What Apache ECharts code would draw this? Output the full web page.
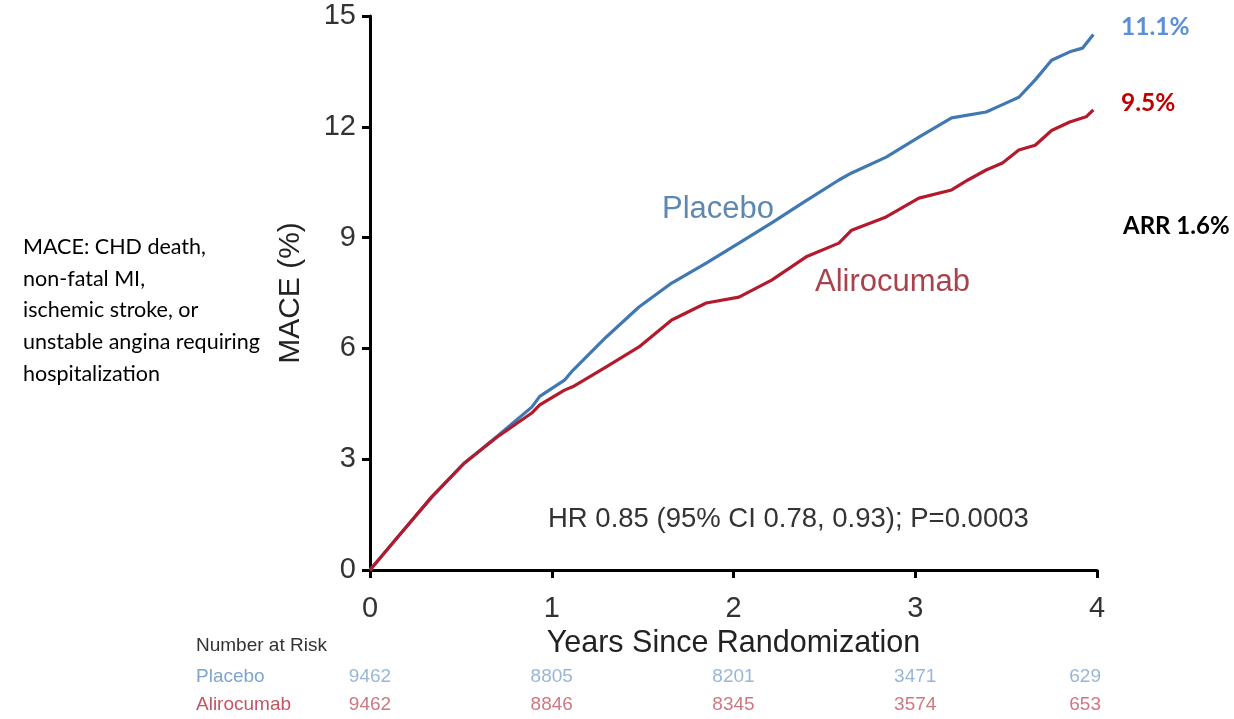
<!DOCTYPE html>
<html>
<head>
<meta charset="utf-8">
<script src="https://cdn.jsdelivr.net/npm/echarts@6/dist/echarts.min.js"></script>
<style>
  html, body { margin: 0; padding: 0; background: #fff; }
  #chart { width: 1234px; height: 719px; }
</style>
</head>
<body>
<div id="chart"></div>
<script>
// Cumulative MACE incidence (%) by years since randomization
const placeboYears = [0, 0.154, 0.34, 0.52, 0.70, 0.89, 0.934, 1.07, 1.115, 1.30, 1.48, 1.66, 1.85, 2.03, 2.21, 2.40, 2.58, 2.65, 2.84, 3.02, 3.20, 3.39, 3.48, 3.57, 3.66, 3.75, 3.85, 3.92, 3.98];
const placeboPct   = [0, 0.9, 1.98, 2.9, 3.62, 4.41, 4.7, 5.14, 5.4, 6.31, 7.12, 7.77, 8.31, 8.85, 9.4, 10.0, 10.56, 10.75, 11.18, 11.72, 12.24, 12.4, 12.6, 12.8, 13.27, 13.8, 14.03, 14.13, 14.5];

const alirocumabYears = [0, 0.154, 0.34, 0.52, 0.70, 0.89, 0.934, 1.07, 1.115, 1.30, 1.48, 1.66, 1.85, 2.03, 2.21, 2.40, 2.58, 2.65, 2.84, 3.02, 3.20, 3.29, 3.39, 3.48, 3.57, 3.66, 3.75, 3.85, 3.94, 3.98];
const alirocumabPct   = [0, 0.9, 1.98, 2.9, 3.6, 4.25, 4.47, 4.87, 4.96, 5.5, 6.04, 6.77, 7.23, 7.39, 7.85, 8.48, 8.85, 9.2, 9.56, 10.07, 10.29, 10.56, 10.83, 11.02, 11.37, 11.5, 11.9, 12.13, 12.27, 12.46];

// Number at risk table
const riskYears = [0, 1, 2, 3, 4];
const riskGroups = ['Placebo', 'Alirocumab'];
const riskPlacebo = [9462, 8805, 8201, 3471, 629];
const riskAlirocumab = [9462, 8846, 8345, 3574, 653];

const yTicks = [0, 3, 6, 9, 12, 15];

const BLUE = '#3f78b2';
const RED = '#b31b2c';
const ARIAL = '"Liberation Sans", Arial, sans-serif';
const NARROW = '"Liberation Sans Narrow", "Liberation Sans", Arial, sans-serif';
const CALIBRI = 'Lato, "Open Sans", sans-serif';

const zip = (xs, ys) => xs.map((x, i) => [x, ys[i]]);
const riskRow = (vals, group) => vals.map((v, i) => {
  const item = { value: [riskYears[i], group, v] };
  if (i === vals.length - 1) item.label = { align: 'right', offset: [4, 0] };
  return item;
});

const chart = echarts.init(document.getElementById('chart'), null, { renderer: 'canvas' });

chart.setOption({
  backgroundColor: '#ffffff',
  animation: false,
  grid: [
    { left: 370, right: 137, top: 16, bottom: 149 },
    { left: 370, right: 137, top: 663, height: 58 }
  ],
  xAxis: [
    {
      gridIndex: 0, type: 'value', min: 0, max: 4, interval: 1,
      name: 'Years Since Randomization', nameLocation: 'middle', nameGap: 52,
      nameTextStyle: { fontFamily: ARIAL, fontSize: 30.5, color: '#222' },
      axisLine: { show: true, lineStyle: { color: '#000', width: 3 } },
      axisTick: { show: true, length: 8, lineStyle: { color: '#000', width: 3 } },
      axisLabel: { fontFamily: ARIAL, fontSize: 29, color: '#333', margin: 24 },
      splitLine: { show: false }
    },
    {
      gridIndex: 1, type: 'value', min: 0, max: 4, interval: 1, show: false
    }
  ],
  yAxis: [
    {
      gridIndex: 0, type: 'value', min: 0, max: 15, interval: 3,
      name: 'MACE (%)', nameLocation: 'middle', nameGap: 64, nameRotate: 90,
      nameTextStyle: { fontFamily: ARIAL, fontSize: 30, color: '#222' },
      axisLine: { show: true, lineStyle: { color: '#000', width: 3 } },
      axisTick: { show: true, length: 8, lineStyle: { color: '#000', width: 3 } },
      axisLabel: {
        fontFamily: ARIAL, fontSize: 29, color: '#333', margin: 14,
        formatter: v => (yTicks.includes(v) ? String(v) : '')
      },
      splitLine: { show: false }
    },
    {
      gridIndex: 1, type: 'category', data: riskGroups, inverse: true,
      axisLine: { show: false }, axisTick: { show: false }, splitLine: { show: false },
      axisLabel: {
        align: 'left', margin: 174, fontFamily: NARROW, fontSize: 19,
        color: (v) => (v === 'Placebo' ? '#7ea5cb' : '#c35562')
      }
    }
  ],
  series: [
    {
      name: 'Placebo', type: 'line', xAxisIndex: 0, yAxisIndex: 0,
      data: zip(placeboYears, placeboPct), showSymbol: false, smooth: false,
      lineStyle: { color: BLUE, width: 3.2 }, z: 3
    },
    {
      name: 'Alirocumab', type: 'line', xAxisIndex: 0, yAxisIndex: 0,
      data: zip(alirocumabYears, alirocumabPct), showSymbol: false, smooth: false,
      lineStyle: { color: RED, width: 3.2 }, z: 4
    },
    {
      name: 'At risk placebo', type: 'scatter', xAxisIndex: 1, yAxisIndex: 1,
      symbolSize: 0, data: riskRow(riskPlacebo, 'Placebo'),
      label: { show: true, position: 'inside', formatter: p => p.value[2],
               fontFamily: NARROW, fontSize: 19, color: '#7ea5cb' }
    },
    {
      name: 'At risk alirocumab', type: 'scatter', xAxisIndex: 1, yAxisIndex: 1,
      symbolSize: 0, data: riskRow(riskAlirocumab, 'Alirocumab'),
      label: { show: true, position: 'inside', formatter: p => p.value[2],
               fontFamily: NARROW, fontSize: 19, color: '#c35562' }
    }
  ],
  graphic: [
    { type: 'text', left: 662, top: 194, style: { text: 'Placebo', font: '31px ' + ARIAL, fill: '#5d88b2' } },
    { type: 'text', left: 815, top: 267, style: { text: 'Alirocumab', font: '31px ' + ARIAL, fill: '#a9424d' } },
    { type: 'text', left: 548, top: 505, style: { text: 'HR 0.85 (95% CI 0.78, 0.93); P=0.0003', font: '27.5px ' + ARIAL, fill: '#333' } },
    { type: 'text', left: 1121, top: 15, style: { text: '11.1%', font: 'bold 24.5px ' + CALIBRI, fill: '#5b8fd6' } },
    { type: 'text', left: 1121, top: 91, style: { text: '9.5%', font: 'bold 24.5px ' + CALIBRI, fill: '#c00000' } },
    { type: 'text', left: 1123, top: 214, style: { text: 'ARR 1.6%', font: 'bold 24px ' + CALIBRI, fill: '#000' } },
    { type: 'text', left: 23, top: 231, style: {
        text: 'MACE: CHD death,\nnon-fatal MI,\nischemic stroke, or\nunstable angina requiring\nhospitalization',
        font: '21.5px ' + CALIBRI, fill: '#000', lineHeight: 31.8 } },
    { type: 'text', left: 196, top: 636, style: { text: 'Number at Risk', font: '19px ' + NARROW, fill: '#333' } }
  ]
});
</script>
</body>
</html>
